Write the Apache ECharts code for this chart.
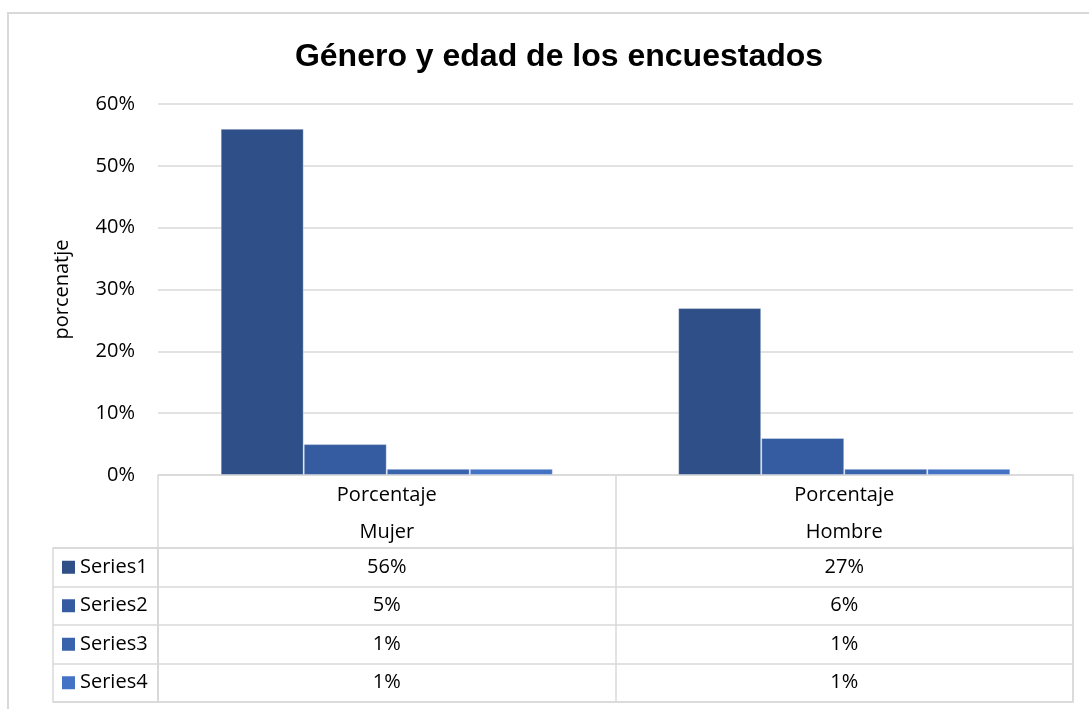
<!DOCTYPE html>
<html>
<head>
<meta charset="utf-8">
<script src="https://cdn.jsdelivr.net/npm/echarts@6/dist/echarts.min.js"></script>
<style>
  html, body { margin: 0; padding: 0; background: #fff; }
  #chart { width: 1089px; height: 709px; }
</style>
</head>
<body>
<div id="chart"></div>
<script>
// datos
var categorias = ["Mujer", "Hombre"];
var encabezado = "Porcentaje";
var nombresSeries = ["Series1", "Series2", "Series3", "Series4"];
var series1 = [56, 27];
var series2 = [5, 6];
var series3 = [1, 1];
var series4 = [1, 1];
var valores = [series1, series2, series3, series4];
var colores = ["#2E4F88", "#355CA0", "#3A63AE", "#4472C4"];

var fuente = "'Open Sans', 'Noto Sans', sans-serif";
var gris = "#d9d9d9";

var chart = echarts.init(document.getElementById("chart"));

// series de barras
var barras = nombresSeries.map(function (nombre, i) {
  return {
    name: nombre,
    type: "bar",
    xAxisIndex: 0,
    yAxisIndex: 0,
    barGap: "0%",
    barCategoryGap: "27.4%",
    data: valores[i],
    itemStyle: {
      color: colores[i],
      borderColor: "rgba(255,255,255,0.35)",
      borderWidth: 1
    }
  };
});

// celdas de la tabla de datos
var celdas = [];
nombresSeries.forEach(function (nombre, i) {
  categorias.forEach(function (cat, j) {
    celdas.push([cat, nombre, valores[i][j]]);
  });
});

// cuadritos de leyenda en la tabla
var rich = {};
nombresSeries.forEach(function (nombre, i) {
  rich["c" + i] = { backgroundColor: colores[i], width: 13, height: 13 };
});
rich.t = { fontSize: 20, fontFamily: fuente, color: "#000", padding: [0, 0, 0, 5] };

chart.setOption({
  animation: false,
  title: {
    text: "Género y edad de los encuestados",
    left: 554,
    textAlign: "center",
    top: 36,
    textStyle: {
      fontFamily: "'Liberation Sans', Arial, sans-serif",
      fontWeight: "bold",
      fontSize: 32,
      color: "#000"
    }
  },
  graphic: [
    {
      type: "rect",
      shape: { x: 8, y: 13, width: 1200, height: 800 },
      style: { fill: null, stroke: gris, lineWidth: 2 },
      silent: true
    },
    {
      type: "rect",
      shape: { x: 53, y: 548, width: 105, height: 154 },
      style: { fill: null, stroke: gris, lineWidth: 1.5 },
      silent: true
    }
  ],
  grid: [
    { left: 158, right: 16, top: 104, bottom: 234 },
    {
      left: 158, right: 16, top: 548, height: 154,
      show: true, borderColor: gris, borderWidth: 1.5, backgroundColor: "transparent"
    }
  ],
  xAxis: [
    {
      type: "category",
      gridIndex: 0,
      data: categorias,
      axisLine: { show: true, lineStyle: { color: gris, width: 1.5 } },
      axisTick: { show: true, length: 73, lineStyle: { color: gris, width: 1.5 } },
      axisLabel: {
        margin: 2,
        lineHeight: 37,
        fontSize: 20,
        fontFamily: fuente,
        color: "#000",
        formatter: function (v) { return encabezado + "\n" + v; }
      }
    },
    {
      type: "category",
      gridIndex: 1,
      data: categorias,
      axisLine: { show: false },
      axisTick: { show: false },
      axisLabel: { show: false },
      splitLine: { show: true, lineStyle: { color: gris, width: 1.5 } }
    }
  ],
  yAxis: [
    {
      type: "value",
      gridIndex: 0,
      min: 0,
      max: 60,
      interval: 10,
      name: "porcenatje",
      nameLocation: "middle",
      nameGap: 86,
      nameTextStyle: { fontSize: 20, fontFamily: fuente, color: "#000" },
      axisLine: { show: false },
      axisTick: { show: false },
      axisLabel: {
        margin: 23,
        fontSize: 20,
        fontFamily: fuente,
        color: "#000",
        formatter: "{value}%"
      },
      splitLine: { lineStyle: { color: gris, width: 1.5 } }
    },
    {
      type: "category",
      gridIndex: 1,
      inverse: true,
      data: nombresSeries,
      axisLine: { show: false },
      axisTick: { show: true, length: 105, lineStyle: { color: gris, width: 1.5 } },
      splitLine: { show: true, lineStyle: { color: gris, width: 1.5 } },
      axisLabel: {
        align: "left",
        margin: 96,
        formatter: function (v, i) { return "{c" + i + "|}{t|" + v + "}"; },
        rich: rich
      }
    }
  ],
  series: barras.concat([
    {
      type: "scatter",
      xAxisIndex: 1,
      yAxisIndex: 1,
      symbolSize: 0,
      silent: true,
      itemStyle: { opacity: 1 },
      data: celdas,
      label: {
        show: true,
        position: "inside",
        fontSize: 20,
        fontFamily: fuente,
        color: "#000",
        opacity: 1,
        formatter: function (p) { return p.value[2] + "%"; }
      }
    }
  ])
});
</script>
</body>
</html>
